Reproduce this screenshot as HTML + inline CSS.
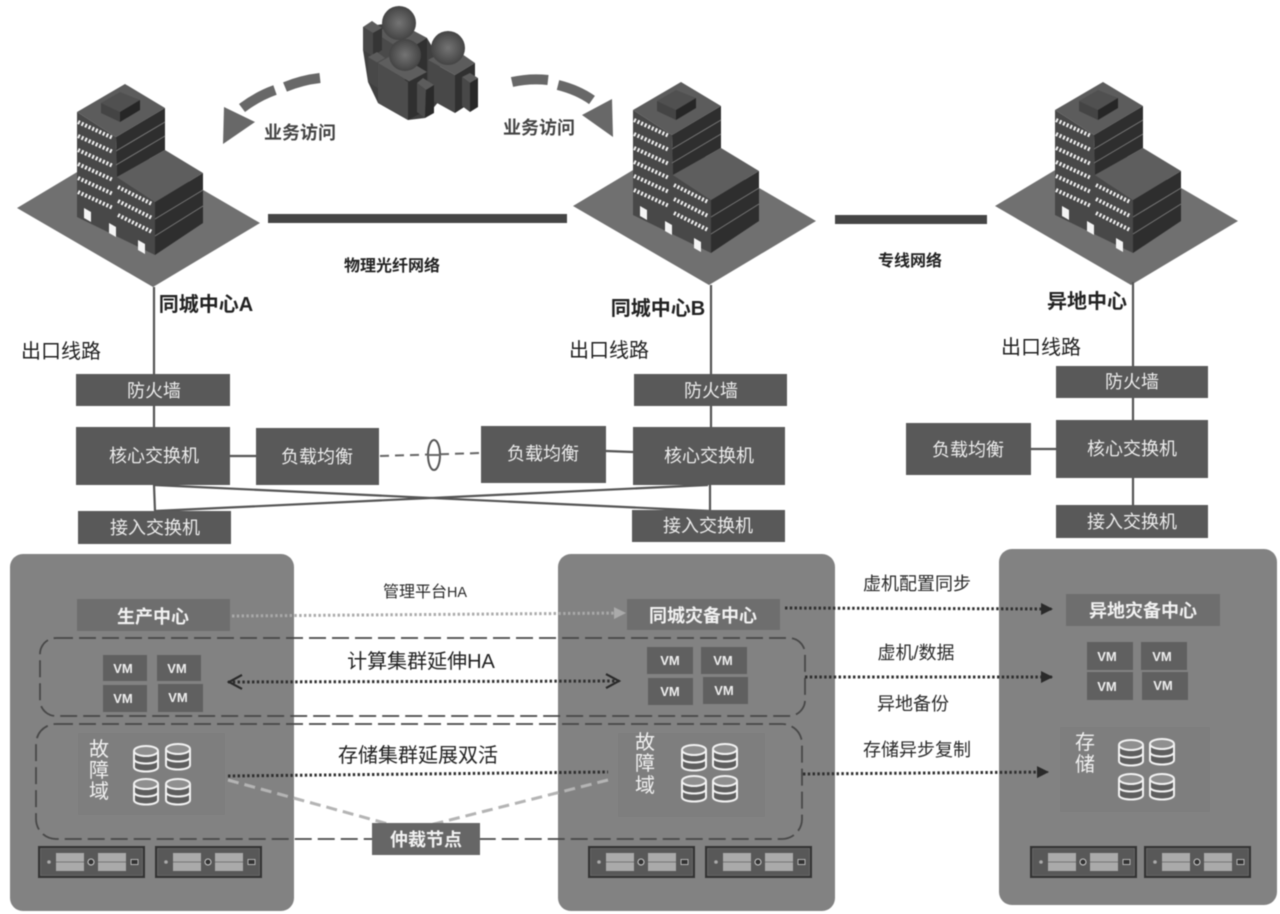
<!DOCTYPE html>
<html><head><meta charset="utf-8">
<style>
html,body{margin:0;padding:0;background:#fff}
svg{display:block;filter:blur(.5px)}
text{font-family:"Liberation Sans","Noto Sans CJK SC",sans-serif}
.b{fill:#595959}
.w{fill:#ececec;font-size:18px;text-anchor:middle}
.k{fill:#2a2a2a;font-size:18px;text-anchor:middle}
.h{fill:#222;font-weight:700;text-anchor:middle}
.l{stroke:#555;stroke-width:2.2;fill:none}
.vm{fill:#606060}
.vt{fill:#eee;font-size:13px;font-weight:700;text-anchor:middle;font-family:"Liberation Sans",sans-serif}
.dash{fill:none;stroke:#484848;stroke-width:1.8;stroke-dasharray:17 6}
.dot{fill:none;stroke:#2e2e2e;stroke-width:3;stroke-dasharray:2.4 2.4}
.big{fill:#222;font-size:20px;text-anchor:middle}
.f{fill:#f0f0f0;font-size:20px;text-anchor:middle}
</style></head><body>
<svg width="1280" height="914" viewBox="0 0 1280 914" xmlns="http://www.w3.org/2000/svg">
<defs>
<g id="bld">
<polygon points="17,208 124,144 260,223 153,287" fill="#707070"/>
<polygon points="77,112 116,137 117,177 155,202 155,255 77,217" fill="#484848"/>
<polygon points="116,137 165,108 165,150 117,177" fill="#2e2e2e"/>
<polygon points="155,202 203,173 203,223 155,255" fill="#2e2e2e"/>
<polygon points="77,112 125,84 165,108 116,137" fill="#5c5c5c"/>
<polygon points="117,177 165,150 203,173 155,202" fill="#5e5e5e"/>
<polygon points="101,103 120,92 140,100 120,112" fill="#505050"/>
<polygon points="101,103 120,112 120,122 101,113" fill="#444"/>
<polygon points="120,112 140,100 140,110 120,122" fill="#262626"/>
<g stroke="#777" stroke-width="1" fill="none">
<path d="M116,151 L165,122 M116,165 L165,136 M155,219 L203,190 M155,236 L203,206"/>
</g>
<g stroke="#f2f2f2" stroke-width="4" stroke-dasharray="2 1.9" fill="none">
<path d="M78,122 L113,138 M78,136 L113,152 M78,150 L113,166 M78,164 L113,180 M78,178 L113,194 M78,192 L113,208"/>
<path d="M118,187 L152,204 M118,201 L152,218 M118,215 L152,232"/>
</g>
<g fill="#f4f4f4">
<polygon points="84,208 91,212 91,222 84,218"/>
<polygon points="109,223 116,227 116,237 109,233"/>
<polygon points="138,240 145,244 145,254 138,250"/>
</g>
</g>
<g id="disk" fill="#5e5e5e" stroke="#f2f2f2" stroke-width="2">
<path d="M-12,-8 V8 C-12,14 12,14 12,8 V-8"/>
<path d="M-12,0 C-12,6 12,6 12,0" fill="none"/>
<ellipse cx="0" cy="-8" rx="12" ry="5" fill="#8f8f8f"/>
</g>
<g id="srv">
<rect x="0" y="0" width="107" height="32" fill="#333"/>
<rect x="2.5" y="2.5" width="102" height="27" fill="#585858" stroke="#777" stroke-width=".6"/>
<rect x="18" y="7" width="28" height="18" fill="#aaa"/><rect x="60" y="7" width="28" height="18" fill="#aaa"/>
<path d="M18,16 H46 M60,16 H88" stroke="#777" stroke-width="1"/>
<circle cx="53" cy="16" r="3" fill="#333" stroke="#ccc"/><circle cx="11" cy="16" r="1.8" fill="#aaa"/>
<rect x="93" y="13.5" width="7" height="5" fill="#333" stroke="#ccc" stroke-width=".8"/>
</g>
<radialGradient id="hd"><stop offset="0" stop-color="#747474"/><stop offset="1" stop-color="#444"/></radialGradient>
<g id="p3">
<!-- filler mass -->
<polygon points="363,27 397,22 427,38 440,60 440,100 425,118 408,120 378,103 368,82 363,50" fill="#404040"/>
<!-- back figure -->
<polygon points="375,33 397,22 427,38 405,52" fill="#5a5a5a"/>
<polygon points="375,33 405,52 405,80 375,65" fill="#4a4a4a"/>
<polygon points="405,52 427,38 427,72 405,85" fill="#303030"/>
<polygon points="363,27 372,21 382,28 373,33" fill="#5c5c5c"/>
<polygon points="363,27 373,33 373,56 363,50" fill="#484848"/>
<polygon points="373,33 382,28 382,50 373,56" fill="#353535"/>
<!-- right figure -->
<polygon points="428,60 452,47 475,63 455,75" fill="#5c5c5c"/>
<polygon points="428,60 455,75 455,113 428,98" fill="#484848"/>
<polygon points="455,75 475,63 475,100 455,113" fill="#303030"/>
<polygon points="462,77 470,73 478,78 470,83" fill="#5c5c5c"/>
<polygon points="462,77 470,83 470,112 462,106" fill="#484848"/>
<polygon points="470,83 478,78 478,107 470,112" fill="#282828"/>
<!-- front figure -->
<polygon points="378,63 396,53 427,72 410,82" fill="#5e5e5e"/>
<polygon points="378,63 408,82 408,120 378,103" fill="#4c4c4c"/>
<polygon points="408,82 427,72 427,110 408,120" fill="#303030"/>
<polygon points="368,57 377,52 385,58 376,63" fill="#5c5c5c"/>
<polygon points="368,57 378,63 378,88 368,82" fill="#484848"/>
<polygon points="417,83 423,78 434,85 426,90" fill="#5c5c5c"/>
<polygon points="417,83 426,90 425,118 417,112" fill="#4c4c4c"/>
<polygon points="426,90 434,85 434,113 425,118" fill="#2a2a2a"/>
<circle cx="399" cy="23" r="17" fill="url(#hd)"/><circle cx="448" cy="48" r="17" fill="url(#hd)"/><circle cx="405" cy="55" r="16" fill="url(#hd)"/>
</g>
<marker id="ah" markerUnits="userSpaceOnUse" markerWidth="16" markerHeight="18" refX="15" refY="9" orient="auto-start-reverse"><path d="M1,2 L14,9 L1,16" fill="none" stroke="#2a2a2a" stroke-width="2.2"/></marker>
<marker id="at" markerUnits="userSpaceOnUse" markerWidth="12" markerHeight="12" refX="11" refY="6" orient="auto"><path d="M0,0 L12,6 L0,12 Z" fill="#2a2a2a"/></marker>
<marker id="al" markerUnits="userSpaceOnUse" markerWidth="12" markerHeight="12" refX="11" refY="6" orient="auto"><path d="M0,0 L12,6 L0,12 Z" fill="#aaa"/></marker>
</defs>
<rect width="1280" height="914" fill="#fff"/>

<use href="#bld"/>
<use href="#bld" x="556" y="-2"/>
<use href="#bld" x="978" y="-2"/>
<use href="#p3"/>

<path d="M242,108 Q258,96 275,90 M285,87 Q302,80 320,78" stroke="#686868" stroke-width="10" fill="none"/>
<polygon points="224,107 255,122 223,144" fill="#686868"/>
<path d="M512,82 Q530,78 548,80 M558,85 Q578,90 592,100" stroke="#686868" stroke-width="10" fill="none"/>
<polygon points="582,115 612,99 613,137" fill="#686868"/>
<text class="h" x="300" y="139" style="font-size:18px;fill:#444">业务访问</text>
<text class="h" x="539" y="134" style="font-size:18px;fill:#444">业务访问</text>

<rect x="268" y="214" width="299" height="9" fill="#454545"/>
<rect x="835" y="215" width="152" height="9" fill="#454545"/>
<text class="h" x="392" y="271" style="font-size:16px">物理光纤网络</text>
<text class="h" x="910" y="266" style="font-size:16px">专线网络</text>
<text class="h" x="206" y="311" style="font-size:20px">同城中心A</text>
<text class="h" x="658" y="315" style="font-size:20px">同城中心B</text>
<text class="h" x="1087" y="308" style="font-size:20px">异地中心</text>
<text x="61" y="358" style="font-size:20px;text-anchor:middle;fill:#222">出口线路</text>
<text x="609" y="357" style="font-size:20px;text-anchor:middle;fill:#222">出口线路</text>
<text x="1041" y="354" style="font-size:20px;text-anchor:middle;fill:#222">出口线路</text>

<!-- links -->
<g class="l">
<path d="M154,287 V374 M154,406 V427 M154,485 L155,511 M230,456 H256"/>
<path d="M711,285 V374 M711,406 V427 M710,485 L710,510 M606,451 L633,452"/>
<path d="M1133,282 V366 M1133,398 V420 M1133,478 V505 M1031,449 H1056"/>
<path d="M154,485 L710,511 M155,511 L708,485"/>
</g>
<path d="M380,456 L481,453" stroke="#666" stroke-width="2" stroke-dasharray="9 6" fill="none"/>
<ellipse cx="434" cy="455" rx="6" ry="15" fill="#fff" stroke="#555" stroke-width="2"/>
<path d="M427,455 H441" stroke="#666" stroke-width="2"/>

<!-- boxes -->
<g class="b">
<rect x="76" y="374" width="154" height="32"/><rect x="76" y="427" width="154" height="58"/><rect x="256" y="428" width="123" height="57"/><rect x="78" y="511" width="153" height="33"/>
<rect x="634" y="374" width="153" height="32"/><rect x="633" y="427" width="152" height="58"/><rect x="481" y="426" width="125" height="57"/><rect x="632" y="510" width="153" height="32"/>
<rect x="1056" y="366" width="152" height="32"/><rect x="1056" y="420" width="152" height="58"/><rect x="906" y="423" width="125" height="52"/><rect x="1056" y="505" width="152" height="33"/>
</g>
<g class="w">
<text x="154" y="397">防火墙</text><text x="154" y="462">核心交换机</text><text x="317" y="463">负载均衡</text><text x="155" y="534">接入交换机</text>
<text x="711" y="397">防火墙</text><text x="709" y="462">核心交换机</text><text x="543" y="460">负载均衡</text><text x="708" y="532">接入交换机</text>
<text x="1132" y="388">防火墙</text><text x="1132" y="455">核心交换机</text><text x="968" y="456">负载均衡</text><text x="1132" y="528">接入交换机</text>
</g>

<!-- panels -->
<rect x="10" y="554" width="284" height="357" rx="13" fill="#828282"/>
<rect x="558" y="554" width="277" height="357" rx="13" fill="#828282"/>
<rect x="999" y="549" width="278" height="356" rx="13" fill="#828282"/>

<rect x="78" y="733" width="147" height="82" fill="#7e7e7e"/>
<rect x="618" y="733" width="147" height="84" fill="#7e7e7e"/>
<rect x="1060" y="727" width="150" height="85" fill="#7e7e7e"/>

<rect x="40" y="638" width="765" height="78" rx="16" class="dash"/>
<rect x="36" y="724" width="766" height="115" rx="20" class="dash"/>

<g fill="#6e6e6e">
<rect x="77" y="599" width="153" height="32"/><rect x="627" y="599" width="153" height="31"/><rect x="1066" y="594" width="154" height="32"/>
</g>
<g fill="#f2f2f2" font-weight="700" font-size="18" text-anchor="middle">
<text x="153" y="623">生产中心</text><text x="703" y="622">同城灾备中心</text><text x="1143" y="617">异地灾备中心</text>
</g>

<g class="vm">
<rect x="103" y="655" width="44" height="26"/><rect x="157" y="655" width="44" height="26"/><rect x="103" y="685" width="44" height="27"/><rect x="158" y="684" width="45" height="28"/>
<rect x="647" y="647" width="46" height="27"/><rect x="701" y="647" width="46" height="27"/><rect x="648" y="678" width="45" height="27"/><rect x="703" y="677" width="45" height="27"/>
<rect x="1087" y="642" width="46" height="28"/><rect x="1141" y="642" width="46" height="28"/><rect x="1087" y="672" width="46" height="28"/><rect x="1142" y="672" width="46" height="28"/>
</g>
<g class="vt">
<text x="123" y="673">VM</text><text x="177" y="673">VM</text><text x="123" y="703">VM</text><text x="178" y="702">VM</text>
<text x="670" y="665">VM</text><text x="723" y="665">VM</text><text x="670" y="696">VM</text><text x="724" y="695">VM</text>
<text x="1107" y="661">VM</text><text x="1162" y="661">VM</text><text x="1107" y="691">VM</text><text x="1163" y="690">VM</text>
</g>

<g class="f">
<text x="99" y="756">故</text><text x="99" y="777">障</text><text x="99" y="798">域</text>
<text x="645" y="749">故</text><text x="645" y="770">障</text><text x="645" y="792">域</text>
<text x="1085" y="749">存</text><text x="1085" y="771">储</text>
</g>
<use href="#disk" x="146" y="759"/><use href="#disk" x="178" y="757"/><use href="#disk" x="146" y="792"/><use href="#disk" x="178" y="792"/>
<use href="#disk" x="694" y="758"/><use href="#disk" x="725" y="757"/><use href="#disk" x="694" y="789"/><use href="#disk" x="725" y="789"/>
<use href="#disk" x="1131" y="753"/><use href="#disk" x="1162" y="752"/><use href="#disk" x="1131" y="787"/><use href="#disk" x="1162" y="787"/>

<use href="#srv" x="38" y="846"/><use href="#srv" x="155" y="846"/>
<use href="#srv" x="588" y="846"/><use href="#srv" x="705" y="846"/>
<use href="#srv" x="1030" y="846"/><use href="#srv" x="1144" y="846"/>

<!-- connectors -->
<path d="M232,616 L625,613" stroke="#aaa" stroke-width="3" stroke-dasharray="2.4 2.4" fill="none" marker-end="url(#al)"/>
<path d="M228,682 L620,681" class="dot" marker-start="url(#ah)" marker-end="url(#ah)"/>
<path d="M228,776 L608,772" class="dot"/>
<path d="M228,780 L392,825 M608,780 L430,825" stroke="#b4b4b4" stroke-width="3" stroke-dasharray="11 6" fill="none"/>
<path d="M785,608 L1052,609" class="dot" marker-end="url(#at)"/>
<path d="M805,677 L1052,677" class="dot" marker-end="url(#at)"/>
<path d="M803,774 L1048,772" class="dot" marker-end="url(#at)"/>
<rect x="372" y="823" width="108" height="32" fill="#666"/>
<text x="426" y="846" fill="#f2f2f2" font-weight="700" font-size="18" text-anchor="middle">仲裁节点</text>

<text x="425" y="597" style="font-size:16px;fill:#2a2a2a;text-anchor:middle">管理平台<tspan style="font-size:15px" textLength="20" lengthAdjust="spacingAndGlyphs">HA</tspan></text>
<text class="big" x="421" y="668">计算集群延伸HA</text>
<text class="big" x="418" y="762">存储集群延展双活</text>
<text class="k" x="917" y="590">虚机配置同步</text>
<text class="k" x="916" y="659">虚机/数据</text>
<text class="k" x="913" y="710">异地备份</text>
<text class="k" x="917" y="756">存储异步复制</text>
</svg>
</body></html>
